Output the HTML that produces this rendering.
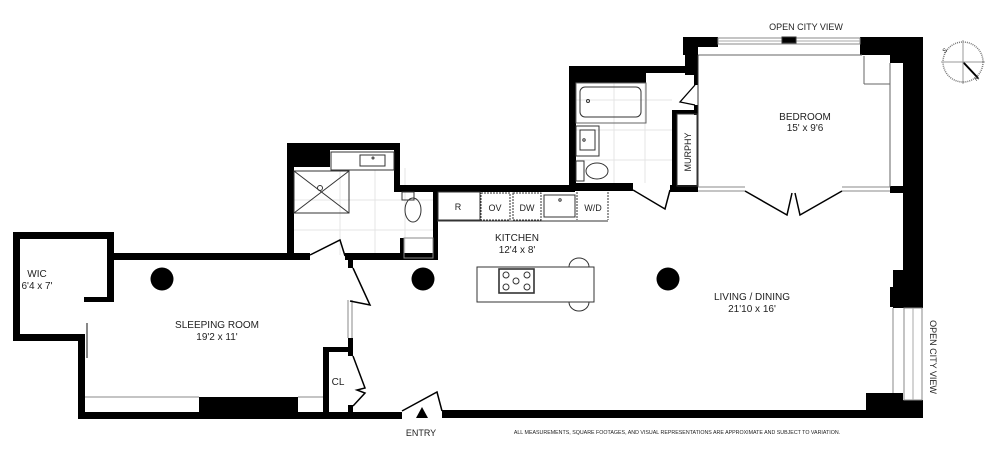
<!DOCTYPE html>
<html><head><meta charset="utf-8"><style>
html,body{margin:0;padding:0;background:#fff;}
svg{display:block;}
text{font-family:"Liberation Sans",sans-serif;fill:#222;}
</style></head><body>
<svg width="1000" height="461" viewBox="0 0 1000 461" xmlns="http://www.w3.org/2000/svg">
<!-- tile grid bath1 -->
<g stroke="#e4e4e4" stroke-width="1">
<line x1="294" y1="200" x2="433" y2="200"/><line x1="294" y1="230" x2="433" y2="230"/>
<line x1="340" y1="168" x2="340" y2="255"/><line x1="375" y1="168" x2="375" y2="255"/><line x1="405" y1="168" x2="405" y2="255"/>
<line x1="576" y1="100" x2="672" y2="100"/><line x1="576" y1="130" x2="672" y2="130"/><line x1="576" y1="160" x2="672" y2="160"/>
<line x1="614" y1="83" x2="614" y2="183"/><line x1="645" y1="83" x2="645" y2="183"/>
</g>
<g fill="#000">
<!-- WIC -->
<rect x="13" y="232" width="101" height="7"/>
<rect x="13" y="232" width="7" height="109"/>
<rect x="107" y="232" width="7" height="69"/>
<rect x="84" y="297" width="30" height="5"/>
<rect x="13" y="334" width="72" height="7"/>
<!-- sleeping room -->
<rect x="78" y="334" width="7" height="85"/>
<rect x="78" y="412" width="324" height="7"/>
<rect x="199" y="397" width="99" height="16"/>
<rect x="107" y="253" width="203" height="7"/>
<!-- bath1 -->
<rect x="287" y="143" width="7" height="117"/>
<rect x="287" y="143" width="113" height="7"/>
<rect x="287" y="143" width="43" height="24"/>
<rect x="394" y="143" width="6" height="49"/>
<rect x="394" y="185" width="181" height="7"/>
<rect x="433" y="190" width="5" height="70"/>
<rect x="400" y="238" width="4" height="20"/>
<rect x="345" y="253" width="93" height="7"/>
<!-- sleeping right wall & CL -->
<rect x="348" y="258" width="5" height="10"/>
<rect x="348" y="338" width="5" height="18"/>
<rect x="323" y="347" width="30" height="5"/>
<rect x="323" y="347" width="6" height="66"/>
<rect x="348" y="405" width="5" height="8"/>
<!-- bath2 -->
<rect x="569" y="66" width="7" height="125"/>
<rect x="569" y="66" width="77" height="17"/>
<rect x="569" y="66" width="128" height="7"/>
<rect x="685" y="37" width="13" height="38"/>
<rect x="694" y="37" width="4" height="48"/>
<rect x="694" y="105" width="4" height="10"/>
<rect x="672" y="110" width="5" height="80"/>
<rect x="672" y="110" width="26" height="4"/>
<rect x="569" y="183" width="64" height="8"/>
<rect x="670" y="185" width="28" height="7"/>
<!-- bedroom walls -->
<rect x="683" y="37" width="35" height="10"/>
<rect x="683" y="37" width="15" height="18"/>
<rect x="860" y="37" width="63" height="18"/>
<rect x="890" y="37" width="33" height="26"/>
<rect x="903" y="37" width="20" height="271"/>
<rect x="890" y="186" width="15" height="7"/>
<rect x="893" y="270" width="12" height="38"/>
<rect x="890" y="287" width="15" height="20"/>
<rect x="903" y="400" width="20" height="18"/>
<rect x="866" y="393" width="37" height="22"/>
<rect x="442" y="410" width="481" height="8"/>
<!-- columns -->
<circle cx="162" cy="279" r="11.5"/>
<circle cx="423" cy="279" r="11.5"/>
<circle cx="668" cy="279" r="11.5"/>
<!-- entry arrow -->
<polygon points="422,407 416,418 428,418"/>
</g>
<g fill="none" stroke="#333" stroke-width="1">
<!-- windows -->
<line x1="85" y1="397" x2="199" y2="397" stroke="#888"/>
<line x1="298" y1="397" x2="323" y2="397" stroke="#888"/>
<line x1="348" y1="300" x2="348" y2="338" stroke="#888"/><line x1="352" y1="300" x2="352" y2="338" stroke="#888"/>
<line x1="87" y1="323" x2="87" y2="358" stroke="#888" stroke-width="2"/>
<rect x="718" y="38" width="142" height="6" stroke="#888"/>
<line x1="718" y1="41" x2="860" y2="41" stroke="#aaa"/>
<rect x="782" y="37" width="14" height="6" fill="#000"/>
<line x1="698" y1="55" x2="862" y2="55" stroke="#666"/>
<line x1="698" y1="55" x2="698" y2="187"/>
<line x1="864" y1="56" x2="864" y2="84" stroke="#666"/><line x1="864" y1="84" x2="890" y2="84" stroke="#666"/><line x1="890" y1="63" x2="890" y2="187" stroke="#666"/>
<rect x="904" y="308" width="18" height="92" stroke="#888"/>
<line x1="913" y1="308" x2="913" y2="400" stroke="#aaa"/>
<line x1="893" y1="308" x2="893" y2="393" stroke="#888"/>
<!-- bedroom doors -->
<line x1="698" y1="187" x2="745" y2="187" stroke="#888"/><line x1="698" y1="191" x2="745" y2="191" stroke="#888"/>
<line x1="842" y1="187" x2="890" y2="187" stroke="#888"/><line x1="842" y1="191" x2="890" y2="191" stroke="#888"/>
<polyline points="745,191 787,215 792,193" stroke="#000" stroke-width="1.5"/>
<polyline points="842,191 800,215 795,193" stroke="#000" stroke-width="1.5"/>
<!-- bath2 door -->
<polyline points="633,190 665,209 670,190" stroke-width="1.5" stroke="#000"/>
<polyline points="695,85 680,102 695,105" stroke-width="1.3" stroke="#000"/>
<rect x="677" y="114" width="20" height="72"/>
<!-- bath1 door & sleeping doors -->
<polyline points="310,255 340,240 345,256" stroke="#000" stroke-width="1.5"/>
<polyline points="353,268 370,305 350,301" stroke="#000" stroke-width="1.5"/>
<polyline points="353,356 365,388 357,390 365,393 353,406" stroke="#000" stroke-width="1.5"/>
<polyline points="402,411 437,392 442,411" stroke="#000" stroke-width="1.5"/>
<!-- bath1 fixtures -->
<rect x="294" y="171" width="55" height="42"/>
<line x1="294" y1="171" x2="349" y2="213"/><line x1="349" y1="171" x2="294" y2="213"/>
<circle cx="320" cy="188" r="2.5"/>
<rect x="331" y="152" width="63" height="18" fill="#fff"/>
<rect x="360" y="155" width="25" height="11"/>
<circle cx="373" cy="158" r="1"/>
<rect x="402" y="192" width="12" height="8"/>
<ellipse cx="413" cy="210" rx="8" ry="12"/>
<rect x="404" y="238" width="29" height="20" stroke="#888"/>
<!-- bath2 fixtures -->
<rect x="576" y="83" width="70" height="40" stroke="#666"/>
<rect x="580" y="87" width="61" height="30" rx="5"/>
<circle cx="588" cy="101" r="1.5"/>
<rect x="576" y="126" width="23" height="30"/>
<rect x="580" y="130" width="15" height="20"/>
<circle cx="584" cy="140" r="1.2"/>
<rect x="576" y="161" width="8" height="20"/>
<ellipse cx="597" cy="171" rx="11" ry="8"/>
<!-- kitchen counter -->
<line x1="437" y1="221" x2="608" y2="221"/>
<rect x="438" y="192" width="42" height="28"/>
<rect x="481" y="193" width="29" height="27" stroke-dasharray="2,1"/>
<rect x="513" y="193" width="28" height="27" stroke-dasharray="2,1"/>
<rect x="544" y="195" width="31" height="22"/>
<circle cx="560" cy="200" r="1.2"/>
<line x1="577" y1="192" x2="577" y2="220" stroke-dasharray="2,1"/>
<line x1="608" y1="192" x2="608" y2="220" stroke-dasharray="2,1"/>
<!-- island -->
<rect x="477" y="267" width="117" height="35" fill="#fff"/>
<rect x="499" y="269" width="35" height="24" stroke-width="1.6"/>
<circle cx="506" cy="275" r="3"/><circle cx="527" cy="275" r="3"/><circle cx="506" cy="287" r="3"/><circle cx="527" cy="287" r="3"/><circle cx="516" cy="281" r="3"/>
<path d="M569,267 a10,9 0 0 1 20,0"/>
<path d="M569,302 a10,9 0 0 0 20,0"/>
<!-- compass -->
<circle cx="963" cy="62" r="20" stroke="#777" stroke-width="1.5" stroke-dasharray="1,1"/>
<line x1="963" y1="62" x2="978" y2="78" stroke="#000" stroke-width="2"/>
<line x1="963" y1="40" x2="963" y2="84" stroke="#999"/><line x1="941" y1="62" x2="985" y2="62" stroke="#999"/>
</g>
<g font-size="10" text-anchor="middle">
<text x="37" y="277">WIC</text><text x="37" y="289">6'4 x 7'</text>
<text x="217" y="328">SLEEPING ROOM</text><text x="217" y="340">19'2 x 11'</text>
<text x="338" y="385">CL</text>
<text x="517" y="241">KITCHEN</text><text x="517" y="253">12'4 x 8'</text>
<text x="805" y="120">BEDROOM</text><text x="805" y="131">15' x 9'6</text>
<text x="752" y="300">LIVING / DINING</text><text x="752" y="312">21'10 x 16'</text>
<text x="421" y="436" font-size="9">ENTRY</text>
<text x="806" y="30" font-size="9">OPEN CITY VIEW</text>
<text x="458" y="210" font-size="9">R</text>
<text x="495" y="211" font-size="9">OV</text>
<text x="527" y="211" font-size="9">DW</text>
<text x="593" y="211" font-size="9">W/D</text>
<text transform="translate(691,152) rotate(-90)" font-size="9">MURPHY</text>
<text transform="translate(930,357) rotate(90)" font-size="9">OPEN CITY VIEW</text>
<text x="677" y="434" font-size="5.3">ALL MEASUREMENTS, SQUARE FOOTAGES, AND VISUAL REPRESENTATIONS ARE APPROXIMATE AND SUBJECT TO VARIATION.</text>
<text x="946" y="52" font-size="6" transform="rotate(-40 946 52)">S</text>
<text x="978" y="80" font-size="6" transform="rotate(-40 978 80)">N</text>
</g>
</svg>
</body></html>
